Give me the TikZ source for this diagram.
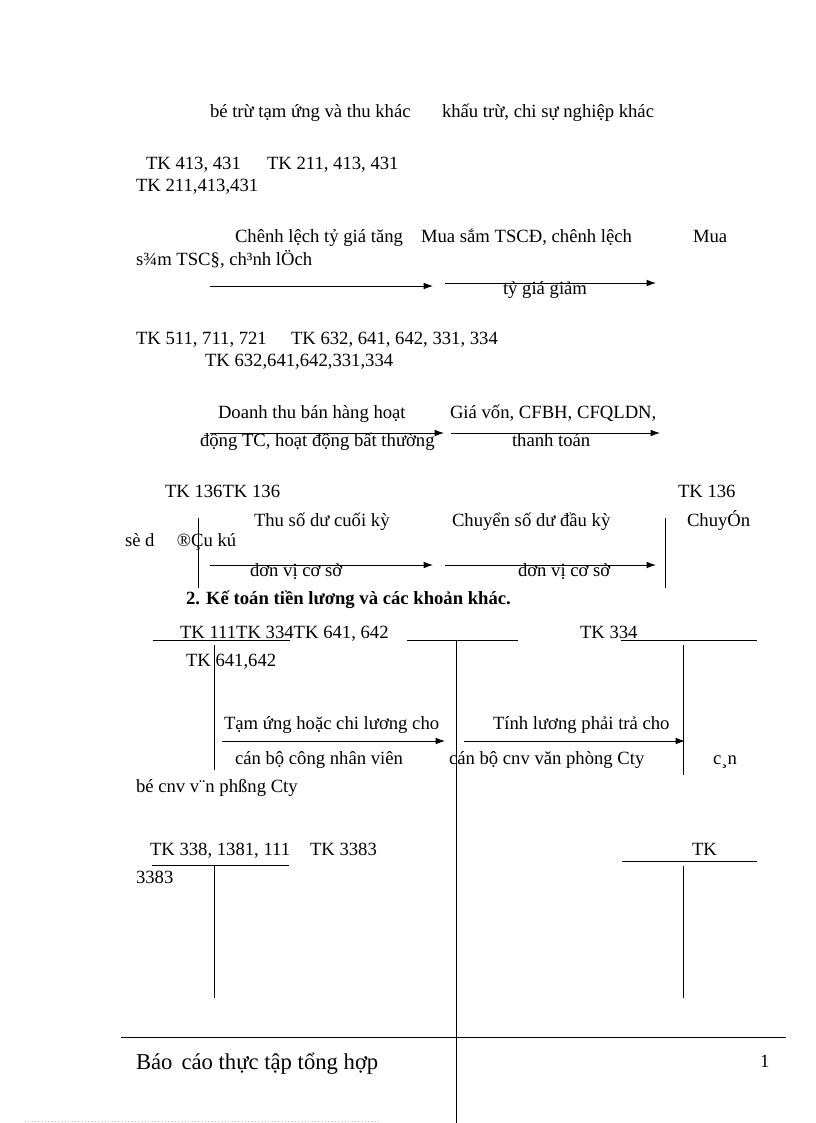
\documentclass[tikz,border=0pt]{standalone}
\usepackage{fontspec}
\setmainfont{Liberation Serif}
\usetikzlibrary{arrows.meta}
\begin{document}
\begin{tikzpicture}[x=0.75pt,y=-0.75pt,
  txt/.style={anchor=base west,inner sep=0pt,outer sep=0pt,font=\fontsize{14}{16}\selectfont},
  ln/.style={line width=0.7pt},
  arr/.style={line width=0.7pt,-{Latex[length=7pt,width=5pt]}}]
\useasboundingbox (0,0) rectangle (816,1123);
% block 1
\node[txt] (t1) at (210,118) {bé trừ tạm ứng và thu khác};
\node[txt] (t2) at (442,118) {khấu trừ, chi sự nghiệp khác};
\node[txt] (t3) at (146,170) {TK 413, 431};
\node[txt] (t4) at (267,170) {TK 211, 413, 431};
\node[txt] (t5) at (136,192) {TK 211,413,431};
\node[txt] (t6) at (235,243) {Chênh lệch tỷ giá tăng};
\node[txt] (t7) at (421,243) {Mua sắm TSCĐ, chênh lệch};
\node[txt] (t8) at (693,243) {Mua};
\node[txt] (t9) at (136,265) {s¾m TSC§, ch³nh lÖch};
\coordinate (a1s) at (210,286); \coordinate (a1e) at (433,286);
\coordinate (a2s) at (445,283); \coordinate (a2e) at (656,283);
\draw[arr] (a1s) -- (a1e);
\draw[arr] (a2s) -- (a2e);
\node[txt] (t10) at (503,294) {tỷ giá giảm};
% block 2
\node[txt] (t11) at (136,344) {TK 511, 711, 721};
\node[txt] (t12) at (291,344) {TK 632, 641, 642, 331, 334};
\node[txt] (t13) at (205,366) {TK 632,641,642,331,334};
\node[txt] (t14) at (218,418) {Doanh thu bán hàng hoạt};
\node[txt] (t15) at (450,418) {Giá vốn, CFBH, CFQLDN,};
\coordinate (b1s) at (210,433); \coordinate (b1e) at (444,433);
\coordinate (b2s) at (451,433); \coordinate (b2e) at (660,433);
\draw[arr] (b1s) -- (b1e);
\draw[arr] (b2s) -- (b2e);
\node[txt] (t16) at (200,446) {động TC, hoạt động bất thường};
\node[txt] (t17) at (512,446) {thanh toán};
% block 3
\node[txt] (t18) at (165,497) {TK 136TK 136};
\node[txt] (t19) at (678,497) {TK 136};
\coordinate (v1t) at (198,518); \coordinate (v1b) at (198,588);
\coordinate (v2t) at (665,518); \coordinate (v2b) at (665,588);
\draw[ln] (v1t) -- (v1b);
\draw[ln] (v2t) -- (v2b);
\node[txt] (t20) at (254,526) {Thu số dư cuối kỳ};
\node[txt] (t21) at (452,526) {Chuyển số dư đầu kỳ};
\node[txt] (t22) at (687,526) {ChuyÓn};
\node[txt] (t23) at (125,546) {sè d\hspace{1.2em}®Çu kú};
\coordinate (c1s) at (210,565); \coordinate (c1e) at (433,565);
\coordinate (c2s) at (445,565); \coordinate (c2e) at (656,565);
\draw[arr] (c1s) -- (c1e);
\draw[arr] (c2s) -- (c2e);
\node[txt] (t24) at (250,576) {đơn vị cơ sở};
\node[txt] (t25) at (518,576) {đơn vị cơ sở};
\node[txt,font=\fontsize{14}{16}\selectfont\bfseries] (t26) at (186,604) {2. Kế toán tiền lương và các khoản khác.};
% block 4
\node[txt] (t27) at (180,638) {TK 111TK 334TK 641, 642};
\node[txt] (t28) at (580,638) {TK 334};
\coordinate (h1s) at (153,640); \coordinate (h1e) at (290,640);
\coordinate (h2s) at (407,640); \coordinate (h2e) at (518,640);
\coordinate (h3s) at (621,640); \coordinate (h3e) at (757,640);
\draw[ln] (h1s) -- (h1e);
\draw[ln] (h2s) -- (h2e);
\draw[ln] (h3s) -- (h3e);
\coordinate (v3t) at (214,645); \coordinate (v3b) at (214,770);
\coordinate (v4t) at (456,640); \coordinate (v4b) at (456,1123);
\coordinate (v5t) at (683,645); \coordinate (v5b) at (683,775);
\draw[ln] (v3t) -- (v3b);
\draw[ln] (v4t) -- (v4b);
\draw[ln] (v5t) -- (v5b);
\node[txt] (t29) at (186,666) {TK 641,642};
\node[txt] (t30) at (224,729) {Tạm ứng hoặc chi lương cho};
\node[txt] (t31) at (493,729) {Tính lương phải trả cho};
\coordinate (d1s) at (222,741); \coordinate (d1e) at (445,741);
\coordinate (d2s) at (464,741); \coordinate (d2e) at (685,741);
\draw[arr] (d1s) -- (d1e);
\draw[arr] (d2s) -- (d2e);
\node[txt] (t32) at (235,764) {cán bộ công nhân viên};
\node[txt] (t33) at (449,764) {cán bộ cnv văn phòng Cty};
\node[txt] (t34) at (713,764) {c¸n};
\node[txt] (t35) at (136,792) {bé cnv v¨n phßng Cty};
% block 5
\node[txt] (t36) at (150,855) {TK 338, 1381, 111};
\node[txt] (t37) at (310,855) {TK 3383};
\node[txt] (t38) at (692,855) {TK};
\node[txt] (t39) at (136,883) {3383};
\coordinate (h4s) at (152,865); \coordinate (h4e) at (289,865);
\coordinate (h5s) at (622,861); \coordinate (h5e) at (757,861);
\draw[ln] (h4s) -- (h4e);
\draw[ln] (h5s) -- (h5e);
\coordinate (v6t) at (214,866); \coordinate (v6b) at (214,998);
\coordinate (v7t) at (683,866); \coordinate (v7b) at (683,998);
\draw[ln] (v6t) -- (v6b);
\draw[ln] (v7t) -- (v7b);
% footer
\coordinate (fs) at (121,1037); \coordinate (fe) at (786,1037);
\draw[ln] (fs) -- (fe);
\node[txt,font=\fontsize{17}{19}\selectfont] (t40) at (136,1069) {Báo\hspace{0.15em} cáo thực tập tổng hợp};
\node[txt] (t41) at (760,1067) {1};
\coordinate (ds) at (25,1121); \coordinate (de) at (380,1121);
\draw[line width=0.5pt,black!25,dotted] (ds) -- (de);
\end{tikzpicture}
\end{document}
